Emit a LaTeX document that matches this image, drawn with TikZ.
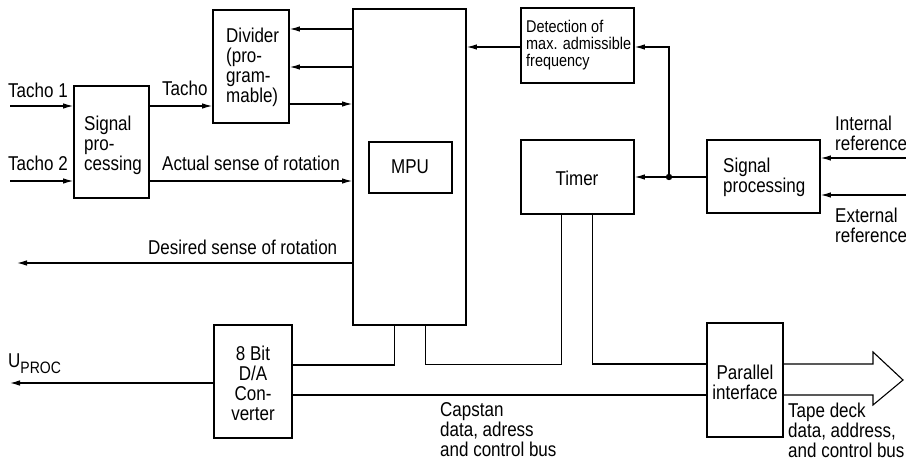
\documentclass[tikz,border=0pt]{standalone}
\usepackage{fontspec}
\setmainfont{Liberation Sans}[FakeStretch=0.85]
\usetikzlibrary{arrows.meta,fit,calc}
\begin{document}
\begin{tikzpicture}[x=1pt,y=-1pt,
  box/.style={draw,line width=1.7pt,inner sep=0pt},
  conn/.style={line width=1.1pt},
  arr/.style={conn,-{Latex[length=10pt,width=5.5pt]}},
  txt/.style={inner sep=0pt,font=\fontsize{20}{20}\selectfont},
  smalltxt/.style={inner sep=0pt,font=\fontsize{17}{17}\selectfont}]
\useasboundingbox (0,0) rectangle (906,461);
% boxes
\node[box,fit={(74,86) (149,198)}] (sp1) {};
\node[box,fit={(213,10) (289,123)}] (div) {};
\node[box,fit={(353,9) (466,325)}] (mpu) {};
\node[draw,line width=1.2pt,inner sep=0pt,fit={(369,142) (452,193)}] (mpuin) {};
\node[box,fit={(521,8) (634,83)}] (det) {};
\node[box,fit={(521,140) (634,214)}] (tim) {};
\node[box,fit={(707,140) (820,213)}] (sp2) {};
\node[box,fit={(214,325) (292,438)}] (da) {};
\node[box,fit={(707,323) (783,437)}] (pif) {};
% texts
\node[txt,anchor=west] (lt1) at (8,90) {Tacho 1};
\node[txt,anchor=west] (lt2) at (8,163) {Tacho 2};
\node[txt,anchor=west] (ltacho) at (162,88) {Tacho};
\node[txt,anchor=west] (lact) at (162,163) {Actual sense of rotation};
\node[txt,anchor=west,align=left] (lsp1) at (84,145) {Signal\\pro-\\cessing};
\node[txt,anchor=west,align=left] (ldiv) at (226,67) {Divider\\(pro-\\gram-\\mable)};
\node[txt] (lmpu) at (410,167) {MPU};
\node[smalltxt,anchor=west,align=left] (ldet) at (526,45) {Detection of\\max. admissible\\frequency};
\node[txt] (ltim) at (577,178) {Timer};
\node[txt,anchor=west,align=left] (lsp2) at (723,177) {Signal\\processing};
\node[txt,anchor=west,align=left] (lint) at (835,133) {Internal\\reference};
\node[txt,anchor=west,align=left] (lext) at (835,225) {External\\reference};
\node[txt,anchor=west] (ldes) at (148,247) {Desired sense of rotation};
\node[txt,anchor=west] (lup) at (8,364) {U\raisebox{-6pt}{\fontsize{16.5}{16.5}\selectfont PROC}};
\node[txt,align=center] (lda) at (253,383) {8 Bit\\D/A\\Con-\\verter};
\node[txt,align=center] (lpif) at (745,382) {Parallel\\interface};
\node[txt,anchor=west,align=left] (lcap) at (440,430) {Capstan\\data, adress\\and control bus};
\node[txt,anchor=west,align=left] (ltape) at (788,430) {Tape deck\\data, address,\\and control bus};
% free ends
\coordinate (t1) at (10,106);
\coordinate (t2) at (10,181);
\coordinate (ir) at (906,158);
\coordinate (er) at (906,195);
\coordinate (ds) at (17,263);
\coordinate (up) at (10,383);
\coordinate (j) at (669,177);
% connectors
\draw[arr] (t1) -- (t1 -| sp1.west);
\draw[arr] (t2) -- (t2 -| sp1.west);
\draw[arr] (sp1.east |- t1) -- (div.west |- t1);
\draw[arr] (sp1.east |- t2) -- (mpu.west |- t2);
\draw[arr] (mpu.west |- 0,29) -- (div.east |- 0,29);
\draw[arr] (mpu.west |- 0,67) -- (div.east |- 0,67);
\draw[arr] (div.east |- 0,104) -- (mpu.west |- 0,104);
\draw[arr] (det.west |- 0,47) -- (mpu.east |- 0,47);
\draw[arr] (sp2.west |- j) -- (tim.east |- j);
\draw[arr] (j) |- (det.east |- 0,47);
\fill (j) circle (3.2pt);
\draw[arr] (ir) -- (ir -| sp2.east);
\draw[arr] (er) -- (er -| sp2.east);
\draw[arr] (mpu.west |- ds) -- (ds);
\draw[arr] (da.west |- up) -- (up);
% bus
\draw[conn] (da.east |- 0,365) -| ($(mpu.south west)+(42,0)$);
\draw[conn] ($(mpu.south west)+(73,0)$) |- ($(tim.south west)+(41,150)$) -- ($(tim.south west)+(41,0)$);
\draw[conn] ($(tim.south west)+(72,0)$) |- (pif.west |- 0,364);
\draw[conn] (da.east |- 0,395) -- (pif.west |- 0,395);
\draw[conn,line join=miter] (pif.east |- 0,364) -- (873,364) -- (873,352) -- (903,380) -- (873,405) -- (873,395) -- (pif.east |- 0,395);
\end{tikzpicture}
\end{document}
